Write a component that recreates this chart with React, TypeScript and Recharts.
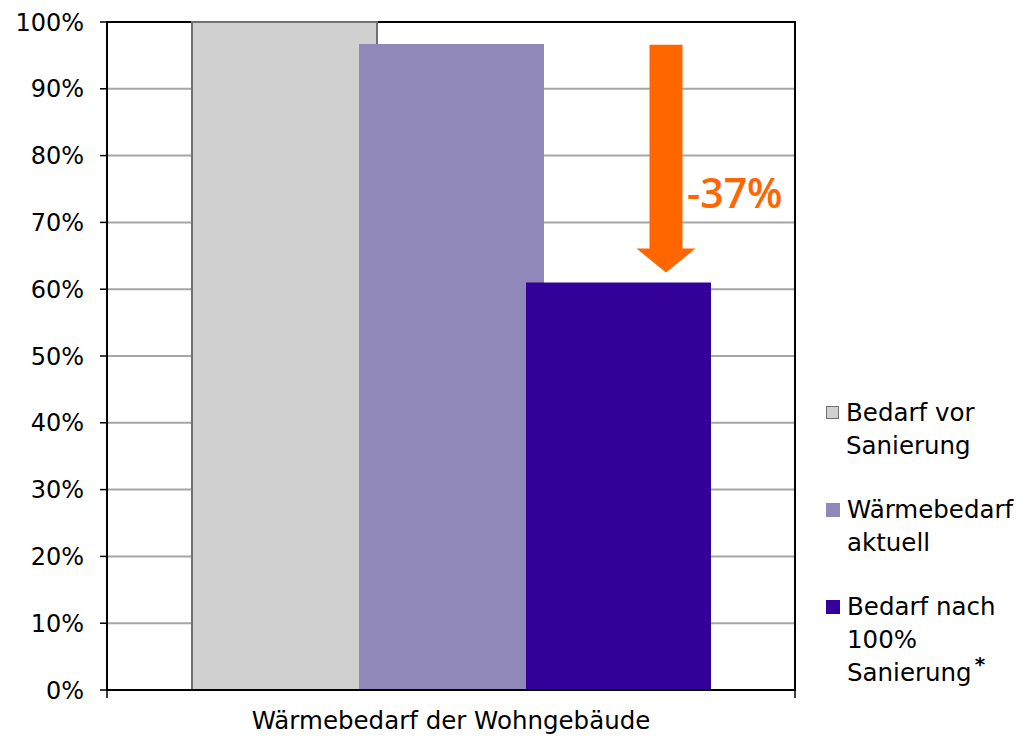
import React from 'react';
import { BarChart, Bar, XAxis, YAxis, CartesianGrid, ReferenceArea } from 'recharts';

const categories = ['Wärmebedarf der Wohngebäude'];
const bedarfVorSanierung = [100];
const waermebedarfAktuell = [96.7];
const bedarfNachSanierung = [61];
const yTicks = [0, 10, 20, 30, 40, 50, 60, 70, 80, 90, 100];
const seriesKeys = ['vor', 'aktuell', 'nach'];
const seriesLabels = ['Bedarf vor\nSanierung', 'Wärmebedarf\naktuell', 'Bedarf nach\n100%\nSanierung'];
const seriesNotes = ['', '', '*'];
const seriesColors = ['#D0D0D0', '#8F88B8', '#330099'];
const seriesStrokes = ['#707070', 'none', 'none'];
const arrowFrom = 96.6;
const arrowTo = 62.5;
const reductionLabel = '-37%';

const FONT = 'DejaVu Sans';

const data = categories.map((c, i) => ({
  name: c,
  vor: bedarfVorSanierung[i],
  aktuell: waermebedarfAktuell[i],
  nach: bedarfNachSanierung[i],
}));

const CatTick = (props: any) => {
  const { x, y, payload } = props;
  const off = payload && typeof payload.offset === 'number' && payload.offset > 0 ? payload.offset : 344;
  return (
    <g>
      <line x1={x - off} x2={x - off} y1={y} y2={y + 8} stroke="#000" strokeWidth={1.5} />
      <line x1={x + off} x2={x + off} y1={y} y2={y + 8} stroke="#000" strokeWidth={1.5} />
      <text x={x} y={y + 39} textAnchor="middle" fontSize={24.5} fontFamily={FONT} fill="#000">
        {payload.value}
      </text>
    </g>
  );
};

const ArrowShape = (props: any) => {
  const { x, y, width, height } = props;
  const cx = x + width * 0.8125;
  const top = y;
  const bottom = y + height;
  const headH = 24;
  const sh = 16.5;
  const hh = 29.5;
  const pts = [
    [cx - sh, top],
    [cx + sh, top],
    [cx + sh, bottom - headH],
    [cx + hh, bottom - headH],
    [cx, bottom],
    [cx - hh, bottom - headH],
    [cx - sh, bottom - headH],
  ]
    .map((p) => p.join(','))
    .join(' ');
  return (
    <g>
      <polygon points={pts} fill="#FF6600" />
      <text
        x={cx + 21}
        y={top + height * 0.718}
        fontSize={41}
        fontWeight={600}
        fontFamily="Open Sans"
        fill="#FF6600"
      >
        {reductionLabel}
      </text>
    </g>
  );
};

export default function App() {
  return (
    <div style={{ position: 'absolute', left: 0, top: 0, width: 1022, height: 737, background: '#fff' }}>
      <BarChart
        width={1022}
        height={737}
        data={data}
        margin={{ top: 22, right: 227, bottom: 0, left: 0 }}
        barSize={185}
        barGap={-18}
      >
        <CartesianGrid vertical={false} stroke="#A6A6A6" strokeWidth={2} />
        <XAxis
          dataKey="name"
          height={47}
          axisLine={{ stroke: '#000', strokeWidth: 2 }}
          tickLine={false}
          tickSize={0}
          tickMargin={0}
          interval={0}
          tick={<CatTick />}
        />
        <YAxis
          width={107}
          domain={[0, 100]}
          ticks={yTicks}
          interval={0}
          tickFormatter={(v: number) => `${v}%`}
          axisLine={{ stroke: '#000', strokeWidth: 2 }}
          tickLine={{ stroke: '#000', strokeWidth: 1.5 }}
          tickSize={7}
          tickMargin={16}
          tick={{ fill: '#000', fontSize: 24, fontFamily: FONT }}
        />
        {seriesKeys.map((k, i) => (
          <Bar
            key={k}
            dataKey={k}
            name={seriesLabels[i]}
            fill={seriesColors[i]}
            stroke={seriesStrokes[i]}
            strokeWidth={seriesStrokes[i] === 'none' ? 0 : 2}
            isAnimationActive={false}
          />
        ))}
        <ReferenceArea y1={arrowTo} y2={arrowFrom} shape={<ArrowShape />} ifOverflow="visible" />
        <ReferenceArea y1={0} y2={100} fill="none" fillOpacity={0} stroke="#000" strokeWidth={2} ifOverflow="visible" />
      </BarChart>
      <div
        style={{
          position: 'absolute',
          left: 826,
          top: 396,
          display: 'flex',
          flexDirection: 'column',
          gap: 31,
          fontFamily: FONT,
          fontSize: 24.5,
          lineHeight: '33px',
          color: '#000',
        }}
      >
        {seriesLabels.map((lab, i) => {
          const lines = lab.split('\n');
          return (
            <div key={i} style={{ display: 'flex', alignItems: 'flex-start' }}>
              <div
                style={{
                  width: seriesStrokes[i] === 'none' ? 14 : 11,
                  height: seriesStrokes[i] === 'none' ? 14 : 11,
                  marginTop: 10,
                  marginRight: 7,
                  background: seriesColors[i],
                  border: seriesStrokes[i] === 'none' ? 'none' : `1.5px solid ${seriesStrokes[i]}`,
                }}
              />
              <div style={{ display: 'flex', flexDirection: 'column' }}>
                {lines.map((ln, j) => (
                  <div key={j} style={{ display: 'flex', alignItems: 'flex-start', whiteSpace: 'nowrap' }}>
                    <span>{ln}</span>
                    {j === lines.length - 1 && seriesNotes[i] ? (
                      <span
                        style={{
                          marginLeft: 3,
                          marginTop: -2,
                          fontWeight: 700,
                          fontSize: 20,
                          lineHeight: '20px',
                        }}
                      >
                        {seriesNotes[i]}
                      </span>
                    ) : null}
                  </div>
                ))}
              </div>
            </div>
          );
        })}
      </div>
    </div>
  );
}
